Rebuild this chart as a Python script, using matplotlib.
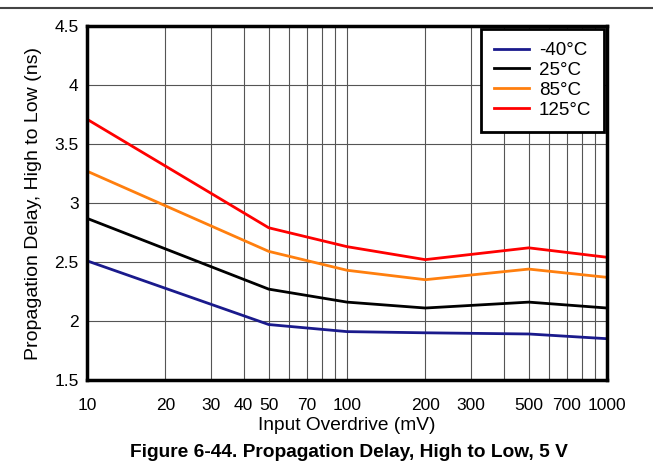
import matplotlib
matplotlib.use("Agg")
import matplotlib.pyplot as plt
from matplotlib.ticker import FixedLocator, FixedFormatter, NullFormatter

plt.rcParams['font.family'] = ['Liberation Sans', 'DejaVu Sans']

# Data
overdrive_mv = [10, 50, 100, 200, 500, 1000]
delay_m40 = [2.51, 1.97, 1.91, 1.90, 1.89, 1.85]
delay_25 = [2.87, 2.27, 2.16, 2.11, 2.16, 2.11]
delay_85 = [3.27, 2.59, 2.43, 2.35, 2.44, 2.37]
delay_125 = [3.71, 2.79, 2.63, 2.52, 2.62, 2.54]

series_labels = ['-40\u00b0C', '25\u00b0C', '85\u00b0C', '125\u00b0C']
series_colors = ['#1a1a8c', '#000000', '#ff7f0e', '#ff0000']

x_tick_vals = [10, 20, 30, 40, 50, 70, 100, 200, 300, 500, 700, 1000]
x_grid_vals = [20, 30, 40, 50, 60, 70, 80, 90, 100, 200, 300, 400, 500, 600, 700, 800, 900]
y_ticks = [1.5, 2, 2.5, 3, 3.5, 4, 4.5]

fig = plt.figure(figsize=(6.53, 4.65), dpi=100)
ax = fig.add_axes([87 / 653, 1 - 380 / 465, 520 / 653, 354 / 465])

for y, lab, col in zip([delay_m40, delay_25, delay_85, delay_125], series_labels, series_colors):
    ax.plot(overdrive_mv, y, color=col, linewidth=2, label=lab, zorder=3)

ax.set_xscale('log')
ax.set_xlim(10, 1000)
ax.set_ylim(1.5, 4.5)

ax.xaxis.set_major_locator(FixedLocator(x_tick_vals))
ax.xaxis.set_major_formatter(FixedFormatter([str(v) for v in x_tick_vals]))
ax.xaxis.set_minor_locator(FixedLocator([]))
ax.xaxis.set_minor_formatter(NullFormatter())
ax.set_yticks(y_ticks)
ax.set_yticklabels(['1.5', '2', '2.5', '3', '3.5', '4', '4.5'])

ax.tick_params(axis='both', which='both', length=0, labelsize=12.5)
ax.tick_params(axis='x', pad=13)
ax.tick_params(axis='y', pad=6)

for xv in x_grid_vals:
    ax.axvline(xv, color='#555555', linewidth=0.8, zorder=1)
for yv in y_ticks[1:-1]:
    ax.axhline(yv, color='#555555', linewidth=0.8, zorder=1)

for s in ax.spines.values():
    s.set_linewidth(2.5)
    s.set_zorder(4)

ax.set_xlabel('Input Overdrive (mV)', fontsize=13.8, labelpad=3)
ax.set_ylabel('Propagation Delay, High to Low (ns)', fontsize=14, labelpad=9)

leg = ax.legend(loc='upper right', fontsize=13.5, frameon=True, fancybox=False,
                borderaxespad=0.15, handlelength=1.9, labelspacing=0.15,
                borderpad=0.7, handletextpad=0.5)
leg.get_frame().set_edgecolor('black')
leg.get_frame().set_linewidth(2)
leg.get_frame().set_alpha(1)
leg.set_zorder(5)

# top separator line and caption
fig.add_artist(plt.Line2D([0, 1], [1 - 8 / 465, 1 - 8 / 465], color='#444444', linewidth=1.5))
fig.text(349 / 653, 1 - 452 / 465, 'Figure 6-44. Propagation Delay, High to Low, 5 V',
         ha='center', va='center', fontsize=13.8, fontweight='bold')

fig.savefig('out.png', dpi=100)
